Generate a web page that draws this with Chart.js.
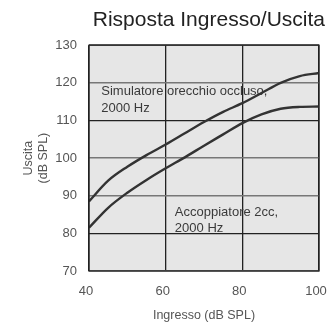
<!DOCTYPE html>
<html>
<head>
<meta charset="utf-8">
<script src="https://cdn.jsdelivr.net/npm/chart.js@4.4.1/dist/chart.umd.min.js"></script>
<style>
  html, body { margin: 0; padding: 0; background: #fff; }
  #wrap { width: 327px; height: 326px; }
</style>
</head>
<body>
<div id="wrap"><canvas id="c" width="327" height="326"></canvas></div>
<script>
// Input level (dB SPL) at 2000 Hz
const ingresso = [40, 45, 50, 55, 60, 65, 70, 75, 80, 85, 90, 95, 100];
// Output in the occluded-ear simulator (dB SPL)
const simulatore = [88.5, 94.0, 97.7, 100.8, 103.6, 106.6, 109.6, 112.3, 114.6, 117.3, 120.0, 121.8, 122.6];
// Output in the 2cc coupler (dB SPL)
const accoppiatore = [81.5, 86.8, 90.8, 94.2, 97.3, 100.2, 103.3, 106.3, 109.3, 111.6, 113.1, 113.6, 113.7];
const xTicks = [40, 60, 80, 100];
const yTicks = [70, 80, 90, 100, 110, 120, 130];

const FONT = "'Liberation Sans', Arial, sans-serif";

// Text notes placed inside the plot at axis values
const note = [
  { x: 43.2, y: 117.6, lines: ['Simulatore orecchio occluso,', '2000 Hz'] },
  { x: 62.4, y: 85.6, lines: ['Accoppiatore 2cc,', '2000 Hz'] }
];

const plotBg = {
  id: 'plotBg',
  beforeDraw(chart) {
    const { ctx, chartArea: a } = chart;
    ctx.save();
    ctx.fillStyle = '#e6e6e6';
    ctx.fillRect(a.left, a.top, a.right - a.left, a.bottom - a.top);
    ctx.restore();
  }
};

const notes = {
  id: 'notes',
  beforeDatasetsDraw(chart) {
    const { ctx, scales } = chart;
    ctx.save();
    ctx.font = '13px ' + FONT;
    ctx.fillStyle = '#3a3a3a';
    ctx.textAlign = 'left';
    ctx.textBaseline = 'middle';
    note.forEach(n => {
      const px = scales.x.getPixelForValue(n.x);
      const py = scales.y.getPixelForValue(n.y);
      n.lines.forEach((t, i) => ctx.fillText(t, px, py + i * 16.2));
    });
    ctx.restore();
  }
};

const frame = {
  id: 'frame',
  afterDatasetsDraw(chart) {
    const { ctx, chartArea: a } = chart;
    ctx.save();
    ctx.strokeStyle = '#222';
    ctx.lineWidth = 1.3;
    ctx.strokeRect(a.left, a.top, a.right - a.left, a.bottom - a.top);
    ctx.restore();
  }
};

const darkY = [80, 110];

new Chart(document.getElementById('c'), {
  type: 'line',
  data: {
    labels: ingresso,
    datasets: [
      {
        label: 'Simulatore orecchio occluso, 2000 Hz',
        data: ingresso.map((x, i) => ({ x, y: simulatore[i] })),
        borderColor: '#333333',
        borderWidth: 2.4,
        pointRadius: 0,
        cubicInterpolationMode: 'monotone',
        fill: false
      },
      {
        label: 'Accoppiatore 2cc, 2000 Hz',
        data: ingresso.map((x, i) => ({ x, y: accoppiatore[i] })),
        borderColor: '#333333',
        borderWidth: 2.4,
        pointRadius: 0,
        cubicInterpolationMode: 'monotone',
        fill: false
      }
    ]
  },
  options: {
    responsive: false,
    animation: false,
    devicePixelRatio: 1,
    layout: { padding: { left: 0, right: 2, top: 0, bottom: 0 } },
    plugins: {
      legend: { display: false },
      tooltip: { enabled: false },
      title: {
        display: true,
        text: 'Risposta Ingresso/Uscita',
        color: '#222',
        font: { family: FONT, size: 21, weight: 'normal' },
        padding: { top: 8, bottom: 12 },
        align: 'end'
      }
    },
    scales: {
      x: {
        type: 'linear',
        min: 40,
        max: 100,
        afterBuildTicks(s) { s.ticks = xTicks.map(v => ({ value: v })); },
        afterFit(s) { s.height = 55; s.paddingLeft = 0; s.paddingRight = 8; },
        border: { display: false },
        grid: {
          drawTicks: false,
          color: '#222',
          lineWidth: 1.3
        },
        ticks: {
          color: '#555',
          padding: 13,
          labelOffset: -3,
          font: { family: FONT, size: 13 }
        },
        title: {
          display: true,
          text: 'Ingresso (dB SPL)',
          color: '#555',
          font: { family: FONT, size: 12.5 },
          padding: { bottom: 3 }
        }
      },
      y: {
        type: 'linear',
        min: 70,
        max: 130,
        afterBuildTicks(s) { s.ticks = yTicks.map(v => ({ value: v })); },
        afterFit(s) { s.width = 89; },
        border: { display: false },
        grid: {
          drawTicks: false,
          color: ctx => darkY.includes(ctx.tick && ctx.tick.value) ? '#222' : '#777',
          lineWidth: ctx => darkY.includes(ctx.tick && ctx.tick.value) ? 1.3 : 1.6
        },
        ticks: {
          color: '#555',
          padding: 12,
          font: { family: FONT, size: 13 }
        },
        title: {
          display: true,
          text: ['Uscita', '(dB SPL)'],
          color: '#555',
          font: { family: FONT, size: 12.5 },
          padding: { top: 21 }
        }
      }
    }
  },
  plugins: [plotBg, notes, frame]
});
</script>
</body>
</html>
